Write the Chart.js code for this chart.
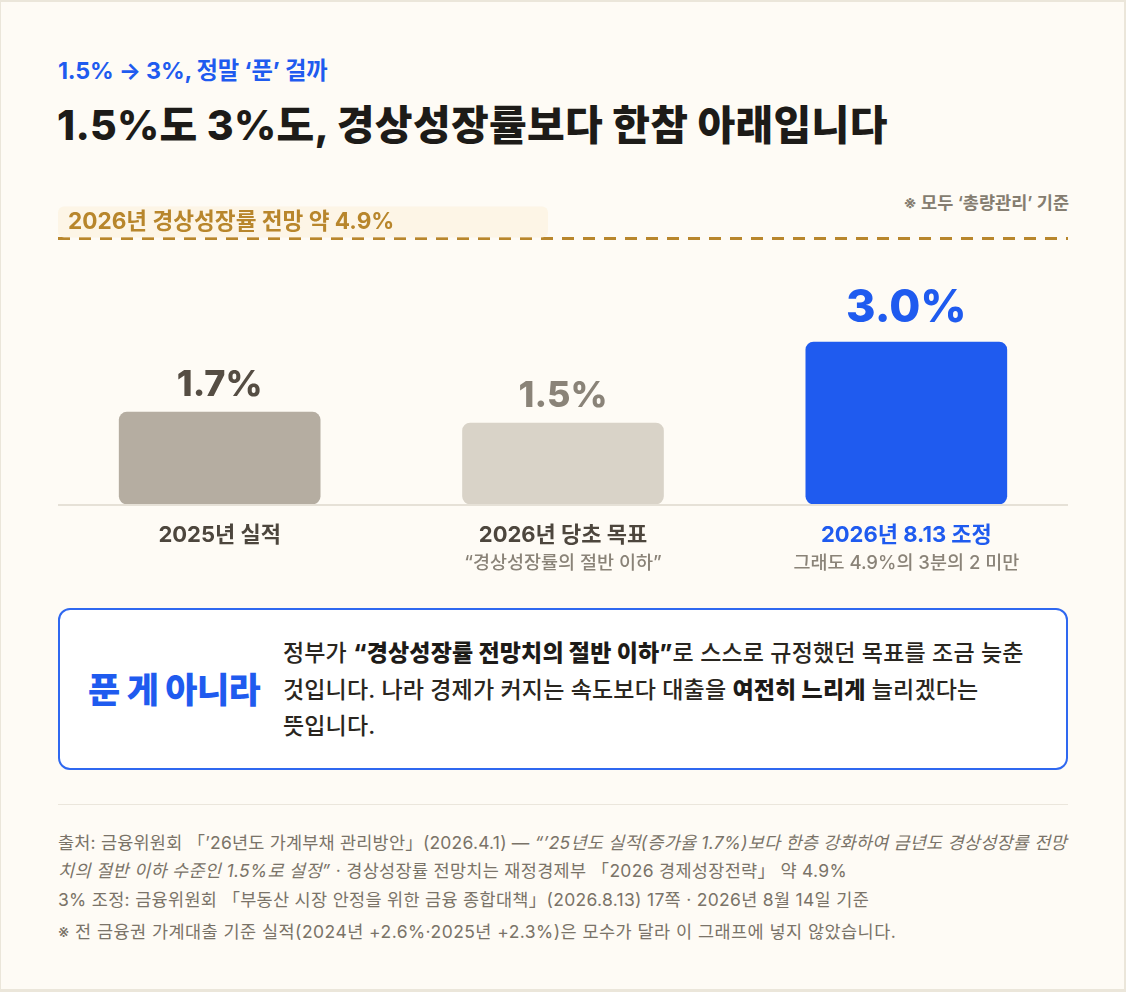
<!DOCTYPE html>
<html lang="ko">
<head>
<meta charset="utf-8">
<script src="https://cdn.jsdelivr.net/npm/chart.js@4/dist/chart.umd.min.js"></script>
<style>
  html, body { margin: 0; padding: 0; }
  body { width: 1126px; height: 992px; background: #ebe6da; position: relative; overflow: hidden;
         font-family: Inter, "Noto Sans CJK KR", "Noto Sans", sans-serif; }
  #card { position: absolute; left: 1px; top: 2px; width: 1123px; height: 987px; background: #fefbf5; }
  .abs { position: absolute; white-space: nowrap; }
  #kicker { left: 58px; top: 57px; font-size: 23.3px; font-weight: 700; color: #1f5bef; line-height: 28px; letter-spacing: -0.2px; }
  #title { left: 57px; top: 99px; font-size: 41px; font-weight: 800; color: #1d1b18; line-height: 52px; letter-spacing: 0.3px; }
  #note { right: 57px; top: 191px; font-size: 17.5px; font-weight: 600; color: #857d70; line-height: 24px; }
  #chartWrap { position: absolute; left: 0; top: 180px; width: 1126px; height: 420px; }
  #callout { position: absolute; left: 58px; top: 608px; width: 1006px; height: 158px; border: 2px solid #2f68f0;
             border-radius: 12px; background: #ffffff; }
  #callHead { left: 28px; top: 58px; font-size: 35px; font-weight: 800; color: #1f5bef; line-height: 44px; letter-spacing: -0.6px; }
  #callBody { left: 223px; top: 25px; font-size: 23px; font-weight: 500; color: #2a2620; line-height: 36.5px; letter-spacing: 0.15px; }
  #callBody b { font-weight: 800; color: #1d1b18; }
  #divider { position: absolute; left: 58px; top: 804px; width: 1010px; height: 1px; background: #ebe6dc; }
  #footer { left: 58px; top: 829px; font-size: 17.5px; color: #7a7368; line-height: 28px; }
  #footer i { font-style: italic; }
  #footer .l1 { letter-spacing: 0.2px; }
  #footer .l2, #footer .l3 { letter-spacing: 0.3px; }
  #footer .l4 { letter-spacing: 0.45px; }
  #footer .l3 { margin-top: 1px; }
  #footer .l4 { margin-top: 4px; }
</style>
</head>
<body>
<div id="card">
</div>
<div id="kicker" class="abs">1.5% → 3%, 정말 ‘푼’ 걸까</div>
<div id="title" class="abs">1.5%도 3%도, 경상성장률보다 한참 아래입니다</div>
<div id="note" class="abs">※ 모두 ‘총량관리’ 기준</div>
<div id="chartWrap"><canvas id="c"></canvas></div>
<div id="callout">
  <div id="callHead" class="abs">푼 게 아니라</div>
  <div id="callBody" class="abs">정부가 <b>“경상성장률 전망치의 절반 이하”</b>로 스스로 규정했던 목표를 조금 늦춘<br>것입니다. 나라 경제가 커지는 속도보다 대출을 <b>여전히 느리게</b> 늘리겠다는<br>뜻입니다.</div>
</div>
<div id="divider"></div>
<div id="footer" class="abs">
  <div class="l1">출처: 금융위원회 「’26년도 가계부채 관리방안」(2026.4.1) — <i>“’25년도 실적(증가율 1.7%)보다 한층 강화하여 금년도 경상성장률 전망</i></div>
  <div class="l2"><i>치의 절반 이하 수준인 1.5%로 설정”</i> · 경상성장률 전망치는 재정경제부 「2026 경제성장전략」 약 4.9%</div>
  <div class="l3">3% 조정: 금융위원회 「부동산 시장 안정을 위한 금융 종합대책」(2026.8.13) 17쪽 · 2026년 8월 14일 기준</div>
  <div class="l4">※ 전 금융권 가계대출 기준 실적(2024년 +2.6%·2025년 +2.3%)은 모수가 달라 이 그래프에 넣지 않았습니다.</div>
</div>

<script>
// ---- data ----
const categories = ['2025년 실적', '2026년 당초 목표', '2026년 8.13 조정'];
const subLabels = ['', '“경상성장률의 절반 이하”', '그래도 4.9%의 3분의 2 미만'];
const values = [1.7, 1.5, 3.0];
const valueLabels = ['1.7%', '1.5%', '3.0%'];
const forecastValue = 4.9;
const forecastLabel = '2026년 경상성장률 전망 약 4.9%';
const yMin = 0;
const yMax = 5.5;

// ---- styles ----
const barColors = ['#b5ada1', '#d9d3c8', '#1f5bef'];
const valueColors = ['#554d43', '#8a8378', '#1f5bef'];
const valueSizes = [36, 36, 45];
const catColors = ['#4d463d', '#4d463d', '#1f5bef'];
const FONT = 'Inter, "Noto Sans CJK KR", sans-serif';

const decorPlugin = {
  id: 'decor',
  beforeDatasetsDraw(chart) {
    const { ctx, scales: { y } } = chart;
    const y0 = y.getPixelForValue(0);
    ctx.save();
    ctx.strokeStyle = '#e6e1d7';
    ctx.lineWidth = 2;
    ctx.beginPath();
    ctx.moveTo(58, y0 + 1);
    ctx.lineTo(1068, y0 + 1);
    ctx.stroke();

    // forecast dashed line
    const yf = y.getPixelForValue(forecastValue);
    ctx.strokeStyle = '#b8862c';
    ctx.lineWidth = 3;
    ctx.setLineDash([12, 9]);
    ctx.beginPath();
    ctx.moveTo(58, yf - 1);
    ctx.lineTo(1068, yf - 1);
    ctx.stroke();
    ctx.setLineDash([]);

    // label box
    ctx.fillStyle = 'rgba(252, 243, 224, 0.75)';
    ctx.beginPath();
    ctx.roundRect(58, yf - 33, 490, 31, 6);
    ctx.fill();
    ctx.fillStyle = '#b8862c';
    ctx.font = '700 22.6px ' + FONT;
    ctx.textBaseline = 'middle';
    ctx.textAlign = 'left';
    ctx.fillText(forecastLabel, 68, yf - 17);
    ctx.restore();
  },
  afterDatasetsDraw(chart) {
    const { ctx, scales: { x, y } } = chart;
    const meta = chart.getDatasetMeta(0);
    const y0 = y.getPixelForValue(0);
    ctx.save();
    ctx.textAlign = 'center';
    meta.data.forEach((bar, i) => {
      // value label
      ctx.fillStyle = valueColors[i];
      ctx.font = '800 ' + valueSizes[i] + 'px ' + FONT;
      ctx.textBaseline = 'alphabetic';
      ctx.fillText(valueLabels[i], bar.x, bar.y - (i === 2 ? 20 : 16));
      // category label
      const cx = x.getPixelForValue(i);
      ctx.fillStyle = catColors[i];
      ctx.font = '700 22px ' + FONT;
      ctx.textBaseline = 'middle';
      ctx.fillText(categories[i], cx, y0 + 31);
      if (subLabels[i]) {
        ctx.fillStyle = '#8a8378';
        ctx.font = '500 18.5px ' + FONT;
        ctx.fillText(subLabels[i], cx, y0 + 59);
      }
    });
    ctx.restore();
  }
};

new Chart(document.getElementById('c'), {
  type: 'bar',
  data: {
    labels: categories,
    datasets: [{
      data: values,
      backgroundColor: barColors,
      borderRadius: 8,
      borderSkipped: false,
      barThickness: 201
    }]
  },
  options: {
    responsive: true,
    maintainAspectRatio: false,
    animation: false,
    layout: { padding: { left: 48, right: 48, top: 27, bottom: 96 } },
    plugins: { legend: { display: false }, tooltip: { enabled: false } },
    scales: {
      x: { display: false },
      y: { display: false, min: yMin, max: yMax }
    }
  },
  plugins: [decorPlugin]
});
</script>
</body>
</html>
